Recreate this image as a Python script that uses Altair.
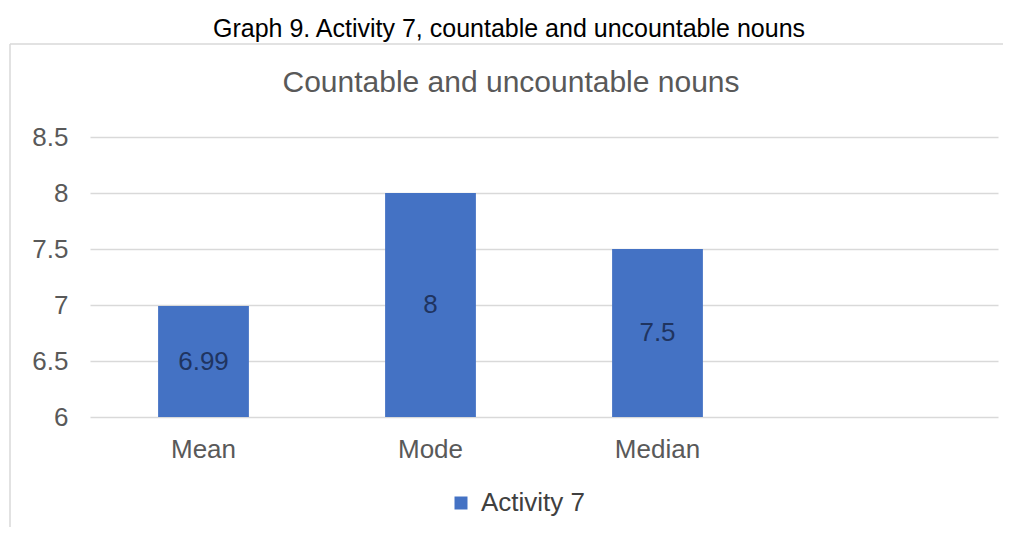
import altair as alt
import pandas as pd

categories = ["Mean", "Mode", "Median"]
values = [6.99, 8.0, 7.5]
value_labels = ["6.99", "8", "7.5"]
slots = ["Mean", "Mode", "Median", " "]
series_name = "Activity 7"
y_ticks = [6, 6.5, 7, 7.5, 8, 8.5]
caption = "Graph 9. Activity 7, countable and uncountable nouns"
chart_title = "Countable and uncountable nouns"

df = pd.DataFrame({
    "category": categories,
    "value": values,
    "label": value_labels,
    "series": [series_name] * len(categories),
})

W, H = 908, 280
FONT = "Liberation Sans"
BLUE = "#4472C4"
GREY = "#595959"
LINE = "#d9d9d9"

x_enc = alt.X(
    "category:N",
    sort=slots,
    scale=alt.Scale(domain=slots, paddingInner=0.6, paddingOuter=0.3),
    axis=alt.Axis(title=None, labelAngle=0, labelFontSize=26, labelColor=GREY,
                  labelFont=FONT, labelPadding=19, ticks=False, domain=False, grid=False),
)
y_scale = alt.Scale(domain=[6, 8.5], nice=False, zero=False)

base = alt.Chart(df)

bars = base.mark_bar(color=BLUE).encode(
    x=x_enc,
    y=alt.Y("value:Q", scale=y_scale,
            axis=alt.Axis(title=None, values=y_ticks, format=".1~f", labelFontSize=26,
                          labelColor=GREY, labelFont=FONT, labelPadding=22, ticks=False,
                          domain=False, grid=True, gridColor=LINE, gridWidth=1.5)),
    y2=alt.Y2Datum(6),
    color=alt.Color("series:N", scale=alt.Scale(range=[BLUE]),
                    legend=alt.Legend(title=None, orient="none", legendX=358, legendY=353,
                                      padding=0, symbolType="square", symbolSize=169,
                                      symbolStrokeWidth=0, labelFontSize=26,
                                      labelColor="#404040", labelFont=FONT, labelOffset=7)),
)

texts = base.transform_calculate(mid="(datum.value + 6) / 2").mark_text(
    fontSize=26, color="#1f3460", font=FONT, baseline="middle"
).encode(
    x=x_enc,
    y=alt.Y("mid:Q", scale=y_scale),
    text="label:N",
)

one = alt.Data(values=[{}])

top_line = alt.Chart(one).mark_rule(color=LINE, strokeWidth=1.5).encode(
    x=alt.value(-80), x2=alt.value(1100), y=alt.value(-93)
)
left_line = alt.Chart(one).mark_rule(color=LINE, strokeWidth=1.5).encode(
    x=alt.value(-80), y=alt.value(-93), y2=alt.value(600)
)

cap = alt.Chart(one).mark_text(fontSize=25, font=FONT, color="#000000", baseline="alphabetic").encode(
    x=alt.value(419), y=alt.value(-100), text=alt.value(caption)
)

ttl = alt.Chart(one).mark_text(fontSize=30, font=FONT, color=GREY, baseline="alphabetic").encode(
    x=alt.value(421), y=alt.value(-45), text=alt.value(chart_title)
)

chart = alt.layer(top_line, left_line, bars, texts, cap, ttl).properties(
    width=W, height=H,
    padding={"left": 82, "top": 129, "right": 5, "bottom": 110},
    autosize=alt.AutoSizeParams(type="none"),
).configure_view(stroke="transparent")

chart.save("out.html", embed_options={"renderer": "svg", "actions": False})
